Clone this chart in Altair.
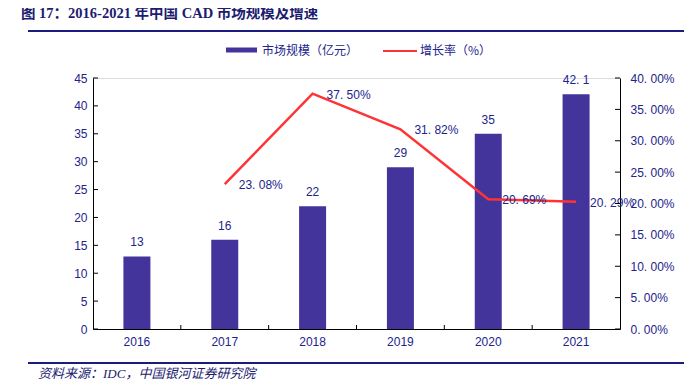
import altair as alt
import pandas as pd

# ---- data ----
years = ["2016", "2017", "2018", "2019", "2020", "2021"]
market = [13, 16, 22, 29, 35, 42.1]
growth_years = ["2017", "2018", "2019", "2020", "2021"]
growth = [0.2308, 0.3750, 0.3182, 0.2069, 0.2029]
left_ticks = [0, 5, 10, 15, 20, 25, 30, 35, 40, 45]
right_ticks = [0, 0.05, 0.10, 0.15, 0.20, 0.25, 0.30, 0.35, 0.40]
title_text = "图 17：2016-2021 年中国 CAD 市场规模及增速"
source_text = "资料来源：IDC，中国银河证券研究院"
legend_bar = "市场规模（亿元）"
legend_line = "增长率（%）"

W, H = 527, 251
NAVY = "#23238c"
BAR = "#42349a"
RED = "#ff3333"
SANS = "Liberation Sans, Arial, Noto Sans CJK SC"
CJK = "Noto Sans CJK SC"
SERIF = "Liberation Serif, Noto Sans CJK SC"

bar_df = pd.DataFrame({"year": years, "market": market})
line_df = pd.DataFrame({"year": growth_years, "growth": growth})

x_axis = alt.Axis(title=None, labelAngle=0, ticks=False, domain=True, domainColor="black",
                  labelColor=NAVY, labelFontSize=12, labelFont=SANS, labelPadding=7)
x_scale = alt.Scale(paddingInner=0, paddingOuter=0)
x_enc = alt.X("year:N", sort=years, scale=x_scale, axis=x_axis)

yl_scale = alt.Scale(domain=[0, 45], nice=False)
yl_axis = alt.Axis(title=None, orient="left", values=left_ticks, ticks=False, grid=False,
                   domainColor="black", labelColor=NAVY, labelFontSize=12, labelFont=SANS,
                   labelPadding=6)
yr_scale = alt.Scale(domain=[0, 0.4], nice=False)
yr_axis = alt.Axis(title=None, orient="right", values=right_ticks, ticks=False, grid=False,
                   domainColor="black", labelColor=NAVY, labelFontSize=12, labelFont=SANS,
                   labelPadding=10,
                   labelExpr="replace(format(datum.value, '.2%'), '.', '. ')")

bars = alt.Chart(bar_df).mark_bar(color=BAR, size=27).encode(
    x=x_enc, y=alt.Y("market:Q", scale=yl_scale, axis=yl_axis))
bar_labels = alt.Chart(bar_df).transform_calculate(
    lab="replace(format(datum.market, ''), '.', '. ')"
).mark_text(color=NAVY, font=SANS, fontSize=12, baseline="bottom", dy=-7).encode(
    x=x_enc, y=alt.Y("market:Q", scale=yl_scale, axis=yl_axis), text="lab:N")
left_tick_marks = alt.Chart(pd.DataFrame({"market": left_ticks})).mark_rule(
    color="black", strokeWidth=1).encode(
    y=alt.Y("market:Q", scale=yl_scale, axis=yl_axis), x=alt.value(0), x2=alt.value(5))
# x-axis ticks at the category boundaries, pointing inward
x_tick_marks = alt.Chart(pd.DataFrame({"year": years[1:]})).mark_rule(
    color="black", strokeWidth=1).encode(
    x=alt.X("year:N", sort=years, scale=x_scale, axis=x_axis, bandPosition=0),
    y=alt.value(H - 4), y2=alt.value(H))

one = pd.DataFrame({"k": [0]})
title = alt.Chart(one).mark_text(text=title_text, font=SERIF, fontWeight="bold", fontSize=14.5,
                                 color="#1c1c70", align="left", baseline="middle").encode(
    x=alt.value(-72), y=alt.value(-64))
title_rule = alt.Chart(one).mark_rule(color="#1c1c80", strokeWidth=2).encode(
    x=alt.value(-65), x2=alt.value(W + 72), y=alt.value(-47))
foot_rule = alt.Chart(one).mark_rule(color="#1c1c80", strokeWidth=2).encode(
    x=alt.value(-65), x2=alt.value(W + 72), y=alt.value(285))
foot = alt.Chart(one).mark_text(text=source_text, font=SERIF, fontStyle="italic", fontSize=13,
                                color="#1c1c70", align="left", baseline="middle").encode(
    x=alt.value(-55), y=alt.value(296))
leg_bar = alt.Chart(one).mark_rule(color=BAR, strokeWidth=5).encode(
    x=alt.value(133), x2=alt.value(164), y=alt.value(-28))
leg_bar_t = alt.Chart(one).mark_text(text=legend_bar, font=CJK, fontSize=12, color=NAVY,
                                     align="left", baseline="middle").encode(
    x=alt.value(169), y=alt.value(-27))
leg_line = alt.Chart(one).mark_rule(color=RED, strokeWidth=2).encode(
    x=alt.value(290), x2=alt.value(324), y=alt.value(-27))
leg_line_t = alt.Chart(one).mark_text(text=legend_line, font=CJK, fontSize=12, color=NAVY,
                                      align="left", baseline="middle").encode(
    x=alt.value(327), y=alt.value(-27))

left_group = alt.layer(bars, bar_labels, left_tick_marks, x_tick_marks, title, title_rule,
                       foot_rule, foot, leg_bar, leg_bar_t, leg_line, leg_line_t)

line = alt.Chart(line_df).mark_line(color=RED, strokeWidth=2.5).encode(
    x=x_enc, y=alt.Y("growth:Q", scale=yr_scale, axis=yr_axis))
line_labels = alt.Chart(line_df).transform_calculate(
    lab="replace(format(datum.growth, '.2%'), '.', '. ')"
).mark_text(color=NAVY, font=SANS, fontSize=12, align="left", baseline="middle", dx=14, dy=1).encode(
    x=x_enc, y=alt.Y("growth:Q", scale=yr_scale, axis=yr_axis), text="lab:N")
right_tick_marks = alt.Chart(pd.DataFrame({"growth": right_ticks})).mark_rule(
    color="black", strokeWidth=1).encode(
    y=alt.Y("growth:Q", scale=yr_scale, axis=yr_axis), x=alt.value(W - 5), x2=alt.value(W))

right_group = alt.layer(line, line_labels, right_tick_marks)

chart = alt.layer(left_group, right_group).resolve_scale(y="independent").properties(
    width=W, height=H,
    autosize=alt.AutoSizeParams(type="none"),
    padding={"left": 85, "top": 70, "right": 64, "bottom": 53},
).configure_view(stroke=None).configure(background="white")

chart.save("out.html", embed_options={"renderer": "svg", "actions": False})
